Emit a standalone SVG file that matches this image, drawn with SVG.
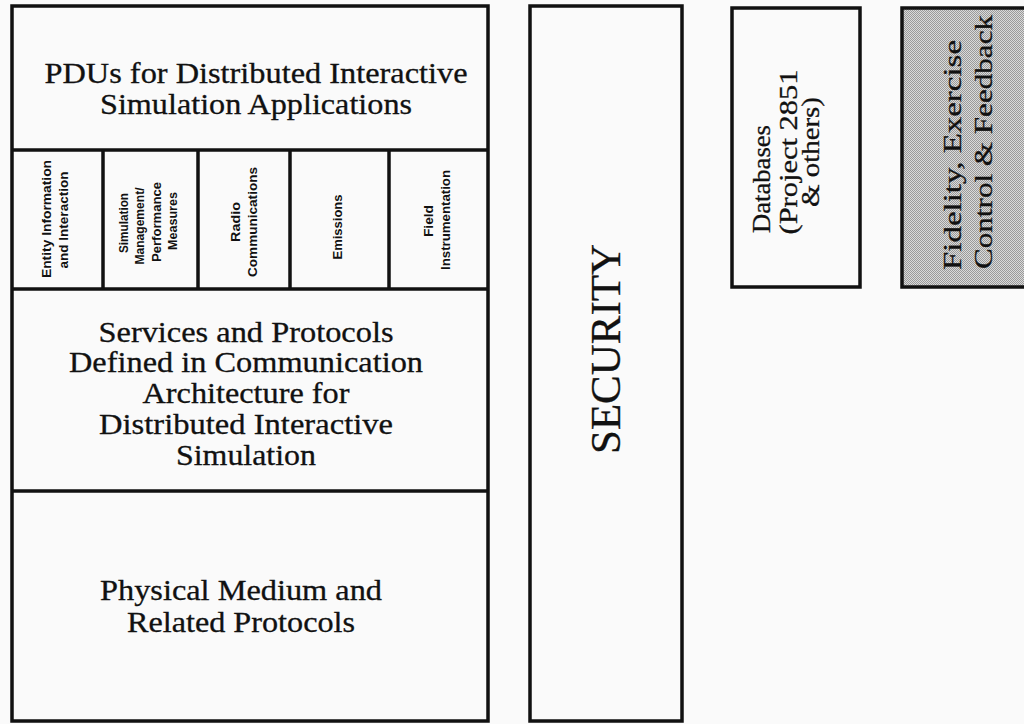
<svg xmlns="http://www.w3.org/2000/svg" width="1024" height="724" viewBox="0 0 1024 724">
<style>
.box{fill:none;stroke:#111;stroke-width:3.5}
.ln{stroke:#111;stroke-width:3.5}
.big{font-family:"Liberation Serif","Times New Roman",serif;font-size:29px;fill:#111;text-anchor:middle;stroke:#111;stroke-width:0.3}
.sm{font-family:"Liberation Sans",Arial,sans-serif;font-weight:bold;font-size:13px;fill:#111;text-anchor:middle}
.mid{font-family:"Liberation Serif","Times New Roman",serif;font-size:26px;fill:#111;text-anchor:middle;stroke:#111;stroke-width:0.3}
.sec{font-family:"Liberation Serif","Times New Roman",serif;font-size:42px;fill:#111;text-anchor:middle;stroke:#111;stroke-width:0.3}
</style>
<defs>
<pattern id="dither" width="2" height="2" patternUnits="userSpaceOnUse">
<rect width="2" height="2" fill="#dadada"/>
<rect x="0" y="0" width="1" height="1" fill="#9a9a9a"/>
<rect x="1" y="1" width="1" height="1" fill="#9a9a9a"/>
</pattern>
</defs>
<rect width="1024" height="724" fill="#fafafa"/>

<g id="stack">
<rect class="box" x="12" y="6" width="476" height="715"/>
<line class="ln" x1="12" y1="150" x2="488" y2="150"/>
<line class="ln" x1="12" y1="289" x2="488" y2="289"/>
<line class="ln" x1="12" y1="491" x2="488" y2="491"/>
</g>

<g id="pdus">
<text class="big" x="256" y="83" textLength="423" lengthAdjust="spacingAndGlyphs">PDUs for Distributed Interactive</text>
<text class="big" x="256" y="114" textLength="312" lengthAdjust="spacingAndGlyphs">Simulation Applications</text>
</g>

<g id="pdu-types">
<line class="ln" x1="103" y1="150" x2="103" y2="289"/>
<line class="ln" x1="198" y1="150" x2="198" y2="289"/>
<line class="ln" x1="290" y1="150" x2="290" y2="289"/>
<line class="ln" x1="389" y1="150" x2="389" y2="289"/>
</g>

<g id="entity">
<text class="sm" transform="translate(51,219) rotate(-90)" textLength="118" lengthAdjust="spacingAndGlyphs">Entity Information</text>
<text class="sm" transform="translate(68,220) rotate(-90)" textLength="97" lengthAdjust="spacingAndGlyphs">and Interaction</text>
</g>
<g id="simmgmt">
<text class="sm" transform="translate(128,223) rotate(-90)" textLength="60" lengthAdjust="spacingAndGlyphs">Simulation</text>
<text class="sm" transform="translate(144,226) rotate(-90)" textLength="77" lengthAdjust="spacingAndGlyphs">Management/</text>
<text class="sm" transform="translate(161,222) rotate(-90)" textLength="80" lengthAdjust="spacingAndGlyphs">Performance</text>
<text class="sm" transform="translate(177,221) rotate(-90)" textLength="58" lengthAdjust="spacingAndGlyphs">Measures</text>
</g>
<g id="radio">
<text class="sm" transform="translate(240,222) rotate(-90)" textLength="40" lengthAdjust="spacingAndGlyphs">Radio</text>
<text class="sm" transform="translate(257,222) rotate(-90)" textLength="110" lengthAdjust="spacingAndGlyphs">Communications</text>
</g>
<g id="emissions">
<text class="sm" transform="translate(342,227) rotate(-90)" textLength="65" lengthAdjust="spacingAndGlyphs">Emissions</text>
</g>
<g id="field">
<text class="sm" transform="translate(433,221) rotate(-90)" textLength="32" lengthAdjust="spacingAndGlyphs">Field</text>
<text class="sm" transform="translate(450,220) rotate(-90)" textLength="100" lengthAdjust="spacingAndGlyphs">Instrumentation</text>
</g>

<g id="services">
<text class="big" x="246" y="342" textLength="295" lengthAdjust="spacingAndGlyphs">Services and Protocols</text>
<text class="big" x="246" y="372" textLength="354" lengthAdjust="spacingAndGlyphs">Defined in Communication</text>
<text class="big" x="246" y="403" textLength="207" lengthAdjust="spacingAndGlyphs">Architecture for</text>
<text class="big" x="246" y="434" textLength="294" lengthAdjust="spacingAndGlyphs">Distributed Interactive</text>
<text class="big" x="246" y="465" textLength="140" lengthAdjust="spacingAndGlyphs">Simulation</text>
</g>

<g id="physical">
<text class="big" x="241" y="600" textLength="282" lengthAdjust="spacingAndGlyphs">Physical Medium and</text>
<text class="big" x="241" y="632" textLength="228" lengthAdjust="spacingAndGlyphs">Related Protocols</text>
</g>

<g id="security">
<rect class="box" x="530" y="6" width="152" height="715"/>
<text class="sec" transform="translate(620,349) rotate(-90)" textLength="210" lengthAdjust="spacingAndGlyphs">SECURITY</text>
</g>

<g id="databases">
<rect class="box" x="732" y="8" width="128" height="279"/>
<text class="mid" transform="translate(770,179) rotate(-90)" textLength="108" lengthAdjust="spacingAndGlyphs">Databases</text>
<text class="mid" transform="translate(797,152) rotate(-90)" textLength="165" lengthAdjust="spacingAndGlyphs">(Project 2851</text>
<text class="mid" transform="translate(819,152) rotate(-90)" textLength="110" lengthAdjust="spacingAndGlyphs">&amp; others)</text>
</g>

<g id="fidelity">
<rect x="902" y="8" width="130" height="279" fill="url(#dither)" stroke="#111" stroke-width="3.5"/>
<text class="mid" transform="translate(961,155) rotate(-90)" textLength="230" lengthAdjust="spacingAndGlyphs">Fidelity, Exercise</text>
<text class="mid" transform="translate(992,142) rotate(-90)" textLength="254" lengthAdjust="spacingAndGlyphs">Control &amp; Feedback</text>
</g>

<g id="connectors"></g>
</svg>
